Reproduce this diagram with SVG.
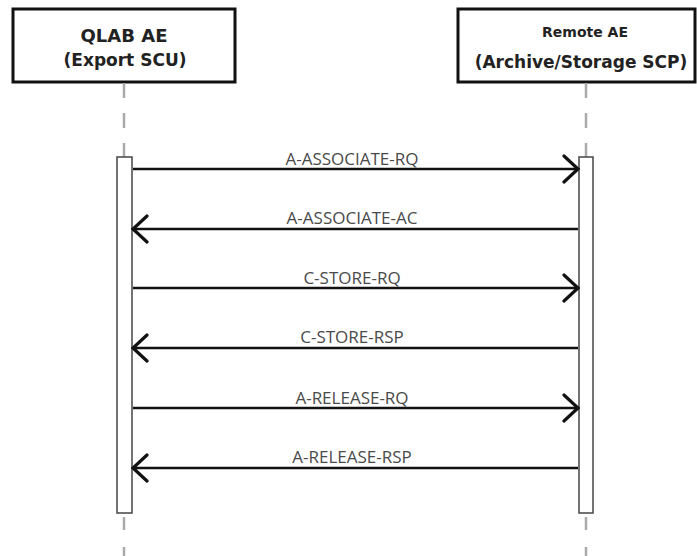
<svg xmlns="http://www.w3.org/2000/svg" width="697" height="556" viewBox="0 0 697 556">
<defs>
<style>
.box{fill:#fff;stroke:#111;stroke-width:3}
.title{font-family:"DejaVu Sans",sans-serif;font-weight:bold;fill:#222;text-anchor:middle}
.life{stroke:#aaa;stroke-width:2.5;fill:none}
.act{fill:#fff;stroke:#444;stroke-width:1.5}
.msg{stroke:#111;stroke-width:2.5;fill:none;marker-end:url(#arr)}
.lbl{font-family:"Open Sans",sans-serif;font-size:17px;fill:#4a4a4a;text-anchor:middle}
</style>
<marker id="arr" markerUnits="userSpaceOnUse" markerWidth="30" markerHeight="34" refX="16" refY="15" orient="auto" viewBox="0 0 30 34">
<path d="M2,2 L16,15 L2,28" fill="none" stroke="#111" stroke-width="3.2" stroke-linecap="round"/>
</marker>
</defs>
<g id="qlab">
<rect class="box" x="13" y="9" width="222" height="73"/>
<text class="title" x="124" y="42" font-size="18">QLAB AE</text>
<text class="title" x="125" y="66" font-size="17">(Export SCU)</text>
<line class="life" x1="124" y1="83" x2="124" y2="157" stroke-dasharray="15 15"/>
<line class="life" x1="124" y1="517" x2="124" y2="556" stroke-dasharray="13 17"/>
<rect class="act" x="117" y="157" width="15" height="356"/>
</g>
<g id="remote">
<rect class="box" x="458" y="9" width="237" height="73"/>
<text class="title" x="585" y="37" font-size="14">Remote AE</text>
<text class="title" x="581" y="68" font-size="17">(Archive/Storage SCP)</text>
<line class="life" x1="586" y1="83" x2="586" y2="157" stroke-dasharray="15 15"/>
<line class="life" x1="586" y1="517" x2="586" y2="556" stroke-dasharray="13 17"/>
<rect class="act" x="579" y="157" width="14" height="356"/>
</g>
<g id="connectors">
<line class="msg" x1="133" y1="169" x2="578" y2="169"/>
<line class="msg" x1="578" y1="229" x2="133" y2="229"/>
<line class="msg" x1="133" y1="288" x2="578" y2="288"/>
<line class="msg" x1="578" y1="348" x2="133" y2="348"/>
<line class="msg" x1="133" y1="408" x2="578" y2="408"/>
<line class="msg" x1="578" y1="468" x2="133" y2="468"/>
<text class="lbl" x="352" y="165">A-ASSOCIATE-RQ</text>
<text class="lbl" x="352" y="224">A-ASSOCIATE-AC</text>
<text class="lbl" x="352" y="284">C-STORE-RQ</text>
<text class="lbl" x="352" y="343">C-STORE-RSP</text>
<text class="lbl" x="352" y="404">A-RELEASE-RQ</text>
<text class="lbl" x="352" y="463">A-RELEASE-RSP</text>
</g>
</svg>
